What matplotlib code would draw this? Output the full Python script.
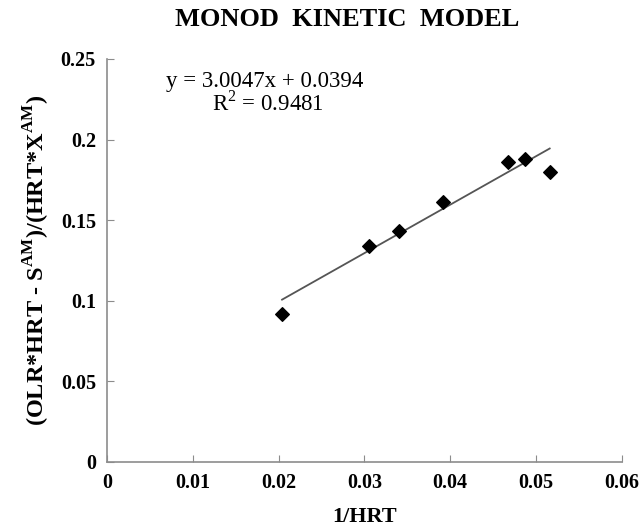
import matplotlib
matplotlib.use('Agg')
import matplotlib.pyplot as plt
import numpy as np
from matplotlib.ticker import FuncFormatter

# data
inv_hrt = [0.0204, 0.0305, 0.0340, 0.0392, 0.0467, 0.0487, 0.0516]
rate = [0.092, 0.134, 0.143, 0.161, 0.186, 0.188, 0.180]

# linear trendline as printed on the chart
slope = 3.0047
intercept = 0.0394
r_squared = 0.9481

x_ticks = [0, 0.01, 0.02, 0.03, 0.04, 0.05, 0.06]
y_ticks = [0, 0.05, 0.1, 0.15, 0.2, 0.25]

plt.rcParams['font.family'] = ['Liberation Serif', 'DejaVu Serif']
plt.rcParams['mathtext.fontset'] = 'custom'
plt.rcParams['mathtext.rm'] = 'Liberation Serif'
plt.rcParams['mathtext.bf'] = 'Liberation Serif:bold'

fig = plt.figure(figsize=(6.41, 5.31), dpi=100)
ax = fig.add_axes([0.167, 0.130, 0.803, 0.759])

ax.scatter(inv_hrt, rate, marker='D', s=48, color='black', zorder=3)

fit_x = np.array([min(inv_hrt), max(inv_hrt)])
ax.plot(fit_x, slope * fit_x + intercept, color='#555555', linewidth=1.3)

ax.set_xlim(0, 0.06)
ax.set_ylim(0, 0.25)
ax.set_xticks(x_ticks)
ax.set_yticks(y_ticks)
fmt = FuncFormatter(lambda v, pos: '%g' % round(v, 4))
ax.xaxis.set_major_formatter(fmt)
ax.yaxis.set_major_formatter(fmt)

for side in ['top', 'right']:
    ax.spines[side].set_visible(False)
for side in ['left', 'bottom']:
    ax.spines[side].set_color('#8c8c8c')
    ax.spines[side].set_linewidth(1.2)

ax.tick_params(direction='in', length=5, color='#8c8c8c', labelsize=14.5, pad=8)
for lbl in ax.get_xticklabels() + ax.get_yticklabels():
    lbl.set_fontweight('bold')

fig.text(347 / 641, 1 - 20 / 531, 'MONOD  KINETIC  MODEL', fontsize=19,
         fontweight='bold', ha='center', va='center')
ax.set_xlabel('1/HRT', fontsize=16, fontweight='bold', labelpad=10)
ax.set_ylabel(r'(OLR*HRT - S$^{\mathbf{AM}}$)/(HRT*X$^{\mathbf{AM}}$)',
              fontsize=17.5, fontweight='bold', labelpad=6)

ax.text(0.0069, 0.236, 'y = %.4fx + %.4f' % (slope, intercept), fontsize=16.5,
        va='center', ha='left')
ax.text(0.0122, 0.2225, r'R$^2$ = %.4f' % r_squared, fontsize=16.5,
        va='center', ha='left')

fig.savefig('out.png', dpi=100)
